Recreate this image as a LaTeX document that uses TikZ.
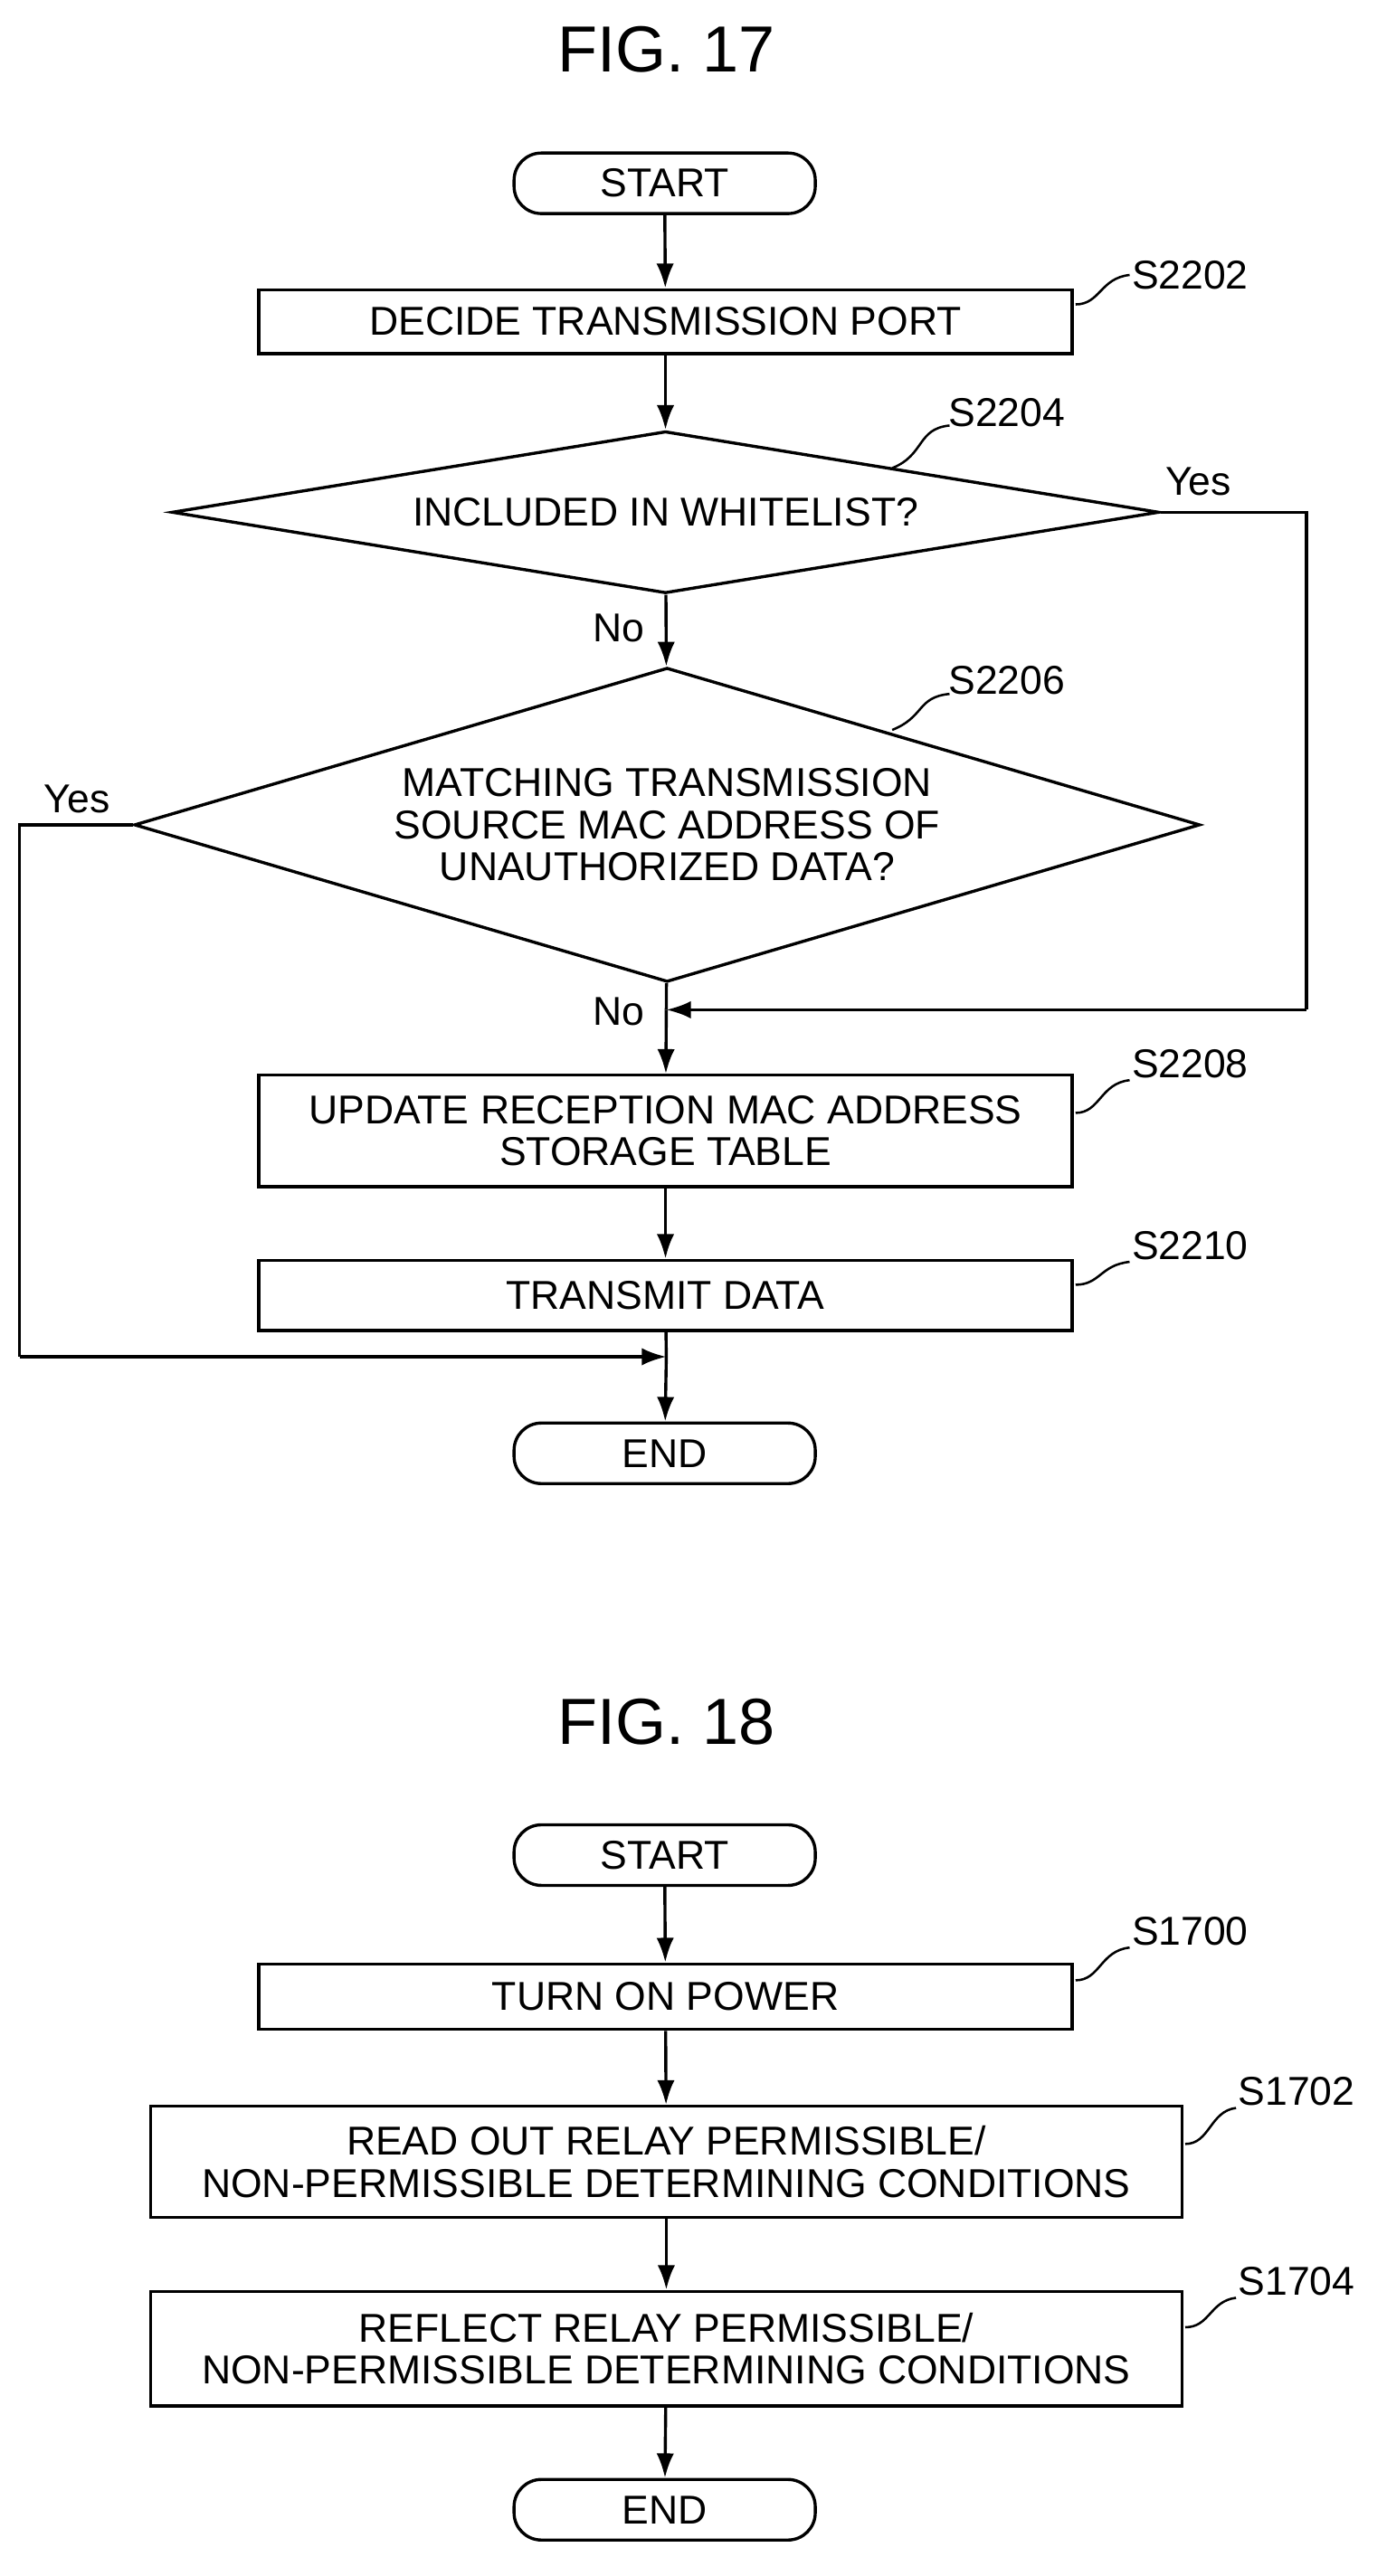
\documentclass[tikz,border=0pt]{standalone}
\usepackage{fontspec}
\setmainfont{Liberation Sans}
\usetikzlibrary{arrows.meta,shapes.geometric}
\begin{document}
\begin{tikzpicture}[x=0.03cm,y=-0.03cm,
  every node/.style={font=\fontsize{21}{25}\selectfont},
  box/.style={draw,line width=1.6pt,minimum height=#1*0.03cm,inner sep=0pt,align=center},
  term/.style={draw,line width=1.6pt,rounded corners=0.5cm,minimum width=184*0.03cm,minimum height=37*0.03cm,inner sep=0pt},
  ln/.style={line width=1.6pt},
  arr/.style={ln,-{Latex[length=0.45cm,width=0.32cm]}},
  sq/.style={line width=1.2pt},
  lbl/.style={anchor=west,inner sep=1pt},
  title/.style={font=\fontsize{34}{40}\selectfont}]
\useasboundingbox (0,0) rectangle (847,1574);
% FIG 17
\node[title] (t17) at (407,30) {FIG. 17};
\node[term] (st1) at (406,112) {START};
\node[box=39,minimum width=497*0.03cm] (b2202) at (406.5,196.5) {DECIDE TRANSMISSION PORT};
\node[diamond,draw,line width=1.6pt,aspect=6.1,minimum width=603*0.03cm,minimum height=99*0.03cm,inner sep=0pt] (d2204) at (406.5,313) {INCLUDED IN WHITELIST?};
\node[diamond,draw,line width=1.6pt,aspect=3.39,minimum width=651*0.03cm,minimum height=192*0.03cm,inner sep=0pt,align=center] (d2206) at (407.5,504) {MATCHING TRANSMISSION\\[-3pt]SOURCE MAC ADDRESS OF\\[-3pt]UNAUTHORIZED DATA?};
\node[box=68,minimum width=497*0.03cm] (b2208) at (406.5,691) {UPDATE RECEPTION MAC ADDRESS\\[-3pt]STORAGE TABLE};
\node[box=43,minimum width=497*0.03cm] (b2210) at (406.5,791.5) {TRANSMIT DATA};
\node[term] (en1) at (406,888) {END};
\coordinate (m1) at (407,617);
\coordinate (m2) at (407,829);
\coordinate (r1) at (798,313);
\coordinate (r2) at (798,617);
\coordinate (l1) at (12,504);
\coordinate (l2) at (12,829);
\draw[arr] (st1) -- (b2202);
\draw[arr] (b2202) -- (d2204);
\draw[arr] (d2204) -- (d2206);
\draw[ln] (d2206) -- (m1);
\draw[arr] (m1) -- (b2208);
\draw[arr] (b2208) -- (b2210);
\draw[ln] (b2210) -- (m2);
\draw[arr] (m2) -- (en1);
\draw[ln] (d2204.east) -- (r1) -- (r2);
\draw[arr] (r2) -- (m1);
\draw[ln] (d2206.west) -- (l1) -- (l2);
\draw[arr] (l2) -- (m2);
\node (y1) at (732,294) {Yes};
\node (n1) at (378,384) {No};
\node (y2) at (47,488) {Yes};
\node (n2) at (378,618) {No};
% step labels
\draw[sq] (657,186) .. controls (672,186) and (672,170) .. (690,168) coordinate (q1);
\node[lbl] (s2202) at (q1) {S2202};
\draw[sq] (545,286) .. controls (565,278) and (560,262) .. (580,260) coordinate (q2);
\node[lbl,anchor=south west] (s2204) at (578,262) {S2204};
\draw[sq] (545,446) .. controls (565,438) and (560,426) .. (580,424) coordinate (q3);
\node[lbl,anchor=south west] (s2206) at (578,426) {S2206};
\draw[sq] (657,680) .. controls (672,680) and (672,662) .. (690,660) coordinate (q4);
\node[lbl,anchor=south west] (s2208) at (q4) {S2208};
\draw[sq] (657,785) .. controls (672,785) and (672,773) .. (690,771) coordinate (q5);
\node[lbl,anchor=south west] (s2210) at (q5) {S2210};
% FIG 18
\node[title] (t18) at (407,1052) {FIG. 18};
\node[term] (st2) at (406,1133.5) {START};
\node[box=40,minimum width=497*0.03cm] (b1700) at (406.5,1220) {TURN ON POWER};
\node[box=68,minimum width=630*0.03cm] (b1702) at (407,1321) {READ OUT RELAY PERMISSIBLE/\\[-3pt]NON-PERMISSIBLE DETERMINING CONDITIONS};
\node[box=70,minimum width=630*0.03cm] (b1704) at (407,1435) {REFLECT RELAY PERMISSIBLE/\\[-3pt]NON-PERMISSIBLE DETERMINING CONDITIONS};
\node[term] (en2) at (406,1533.5) {END};
\draw[arr] (st2) -- (b1700);
\draw[arr] (b1700) -- (b1702);
\draw[arr] (b1702) -- (b1704);
\draw[arr] (b1704) -- (en2);
\draw[sq] (657,1210) .. controls (672,1210) and (672,1192) .. (690,1190) coordinate (q6);
\node[lbl,anchor=south west] (s1700) at (q6) {S1700};
\draw[sq] (724,1310) .. controls (739,1310) and (739,1290) .. (755,1288) coordinate (q7);
\node[lbl,anchor=south west] (s1702) at (q7) {S1702};
\draw[sq] (724,1422) .. controls (739,1422) and (739,1406) .. (755,1404) coordinate (q8);
\node[lbl,anchor=south west] (s1704) at (q8) {S1704};
\end{tikzpicture}
\end{document}
